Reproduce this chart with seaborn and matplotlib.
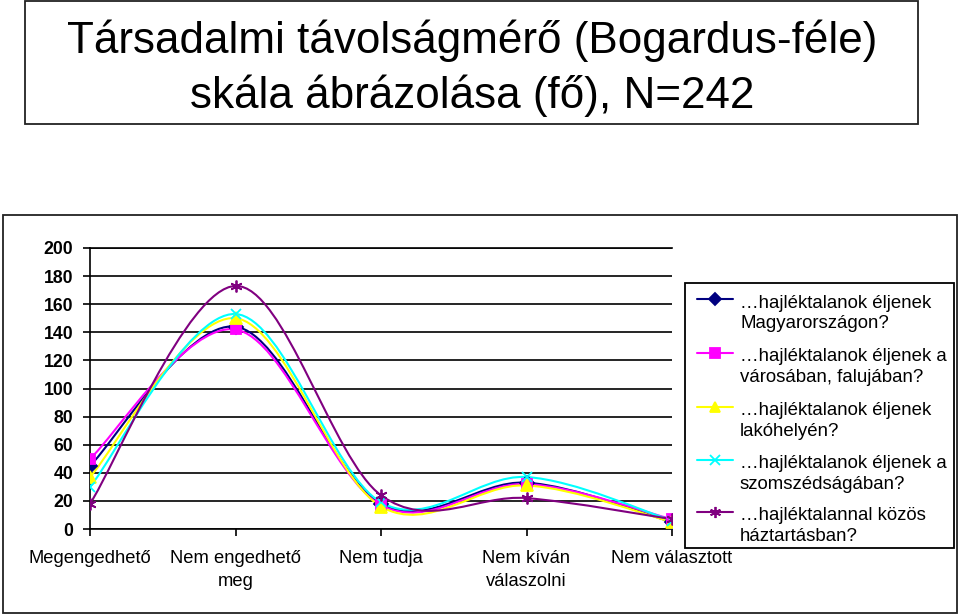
import numpy as np
import pandas as pd
import matplotlib
matplotlib.use("Agg")
import matplotlib.pyplot as plt
import seaborn as sns
from matplotlib.path import Path
from matplotlib.patches import PathPatch, Rectangle
from matplotlib.lines import Line2D

# ---------------- data ----------------
categories = ["Megengedhető", "Nem engedhető\nmeg", "Nem tudja",
              "Nem kíván\nválaszolni", "Nem választott"]
series_names = [
    "…hajléktalanok éljenek\nMagyarországon?",
    "…hajléktalanok éljenek a\nvárosában, falujában?",
    "…hajléktalanok éljenek\nlakóhelyén?",
    "…hajléktalanok éljenek a\nszomszédságában?",
    "…hajléktalannal közös\nháztartásban?",
]
magyarorszagon = [45, 144, 18, 33, 5]
varosaban = [50, 142, 17, 32, 7]
lakohelyen = [37, 150, 16, 31, 5]
szomszedsagaban = [30, 153, 19, 37, 6]
haztartasban = [18, 173, 24, 22, 7]
yticks = list(range(0, 201, 20))

all_values = [magyarorszagon, varosaban, lakohelyen, szomszedsagaban, haztartasban]
colors = ["#000080", "#FF00FF", "#FFFF00", "#00FFFF", "#800080"]
markers = ["D", "s", "^", "x", (6, 2, 0)]
msizes = [7, 7.5, 8, 7, 8.5]

df = pd.DataFrame(
    [(name, i, v) for name, vals in zip(series_names, all_values)
     for i, v in enumerate(vals)],
    columns=["series", "pos", "value"],
)

# ---------------- style ----------------
sns.set_theme(style="white")
plt.rcParams["font.family"] = ["Liberation Sans", "DejaVu Sans"]

W, H = 960, 616
fig = plt.figure(figsize=(W / 100, H / 100), dpi=100)


def fx(px):
    return px / W


def fy(py):
    return 1 - py / H


# outer frames
fig.add_artist(Rectangle((fx(25), fy(124)), fx(918) - fx(25), fy(1) - fy(124),
                         transform=fig.transFigure, fill=False,
                         edgecolor="#222222", lw=1.3))
fig.add_artist(Rectangle((fx(3), fy(613)), fx(957) - fx(3), fy(215) - fy(613),
                         transform=fig.transFigure, fill=False,
                         edgecolor="#222222", lw=1.3))

# title
fig.text(fx(472), fy(53), "Társadalmi távolságmérő (Bogardus-féle)",
         ha="center", va="baseline", fontsize=31.7, color="black")
fig.text(fx(472), fy(108), "skála ábrázolása (fő), N=242",
         ha="center", va="baseline", fontsize=31.7, color="black")

# axes
ax = fig.add_axes([fx(90), fy(529), fx(672) - fx(90), fy(248) - fy(529)])
ax.set_facecolor("white")


def smooth_path(xs, ys):
    pts = np.column_stack([xs, ys]).astype(float)
    n = len(pts)
    verts = [pts[0]]
    codes = [Path.MOVETO]
    for i in range(n - 1):
        p0 = pts[i - 1] if i > 0 else pts[i]
        p1 = pts[i]
        p2 = pts[i + 1]
        p3 = pts[i + 2] if i + 2 < n else pts[i + 1]
        c1 = p1 + (p2 - p0) / 6.0
        c2 = p2 - (p3 - p1) / 6.0
        verts += [c1, c2, p2]
        codes += [Path.CURVE4] * 3
    return Path(verts, codes)


for name, color, mk, ms in zip(series_names, colors, markers, msizes):
    sub = df[df["series"] == name]
    ax.add_patch(PathPatch(smooth_path(sub["pos"].values, sub["value"].values),
                           fill=False, edgecolor=color, lw=1.5, zorder=3))
    sns.lineplot(data=sub, x="pos", y="value", ax=ax, color=color, lw=0,
                 marker=mk, markersize=ms, markeredgecolor=color,
                 markerfacecolor=color, markeredgewidth=1.3, zorder=4,
                 legend=False)

ax.set_xlim(0, 4)
ax.set_ylim(0, 200)
ax.set_yticks(yticks)
ax.set_yticklabels([str(t) for t in yticks], fontsize=12.7, fontweight="bold")
ax.set_xticks(range(len(categories)))
ax.set_xticklabels(categories, fontsize=13.2, linespacing=1.45)
ax.set_xlabel("")
ax.set_ylabel("")
ax.yaxis.grid(True, color="black", lw=1.2)
ax.xaxis.grid(False)
ax.set_axisbelow(True)
for s in ["left", "bottom", "top"]:
    ax.spines[s].set_visible(True)
    ax.spines[s].set_color("black")
    ax.spines[s].set_linewidth(1.2)
ax.spines["right"].set_visible(False)
ax.tick_params(axis="y", direction="out", length=5, width=1.2, pad=7,
               colors="black", left=True)
ax.tick_params(axis="x", direction="out", length=5, width=1.2, pad=10,
               colors="black", bottom=True)

# legend (manual, to match two-line layout)
fig.add_artist(Rectangle((fx(685), fy(548)), fx(954) - fx(685), fy(283) - fy(548),
                         transform=fig.transFigure, facecolor="white",
                         edgecolor="black", lw=1.3))
handle_y = [299, 352.5, 406.5, 460, 512]
for name, color, mk, ms, hy in zip(series_names, colors, markers, msizes, handle_y):
    fig.add_artist(Line2D([fx(697), fx(733)], [fy(hy), fy(hy)],
                          transform=fig.transFigure, color=color, lw=1.5))
    fig.add_artist(Line2D([fx(715)], [fy(hy)], transform=fig.transFigure,
                          color=color, marker=mk, markersize=ms - 0.5,
                          markeredgecolor=color, markerfacecolor=color,
                          markeredgewidth=1.3, lw=0))
    l1, l2 = name.split("\n")
    fig.text(fx(740), fy(hy + 8.5), l1, fontsize=13.4, va="baseline",
             ha="left", color="black")
    fig.text(fx(740), fy(hy + 29), l2, fontsize=13.4, va="baseline",
             ha="left", color="black")

fig.savefig("out.png", dpi=100)
